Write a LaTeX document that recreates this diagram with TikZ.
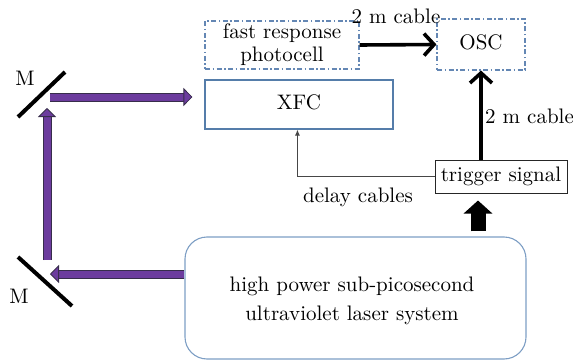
\documentclass[tikz,border=0pt]{standalone}
\usepackage{graphicx}
\usetikzlibrary{arrows.meta,calc}
\definecolor{boxblue}{RGB}{85,125,170}
\definecolor{dashblue}{RGB}{100,135,180}
\definecolor{laserblue}{RGB}{125,158,196}
\definecolor{vio}{RGB}{108,60,158}
\definecolor{vioedge}{RGB}{55,45,75}
\definecolor{linegray}{RGB}{70,70,70}
\newcommand{\bigtxt}[1]{\scalebox{2.1}{\begin{tabular}{@{}c@{}}#1\end{tabular}}}
\begin{document}
\begin{tikzpicture}[x=1pt,y=-1pt,
  font=\fontsize{10}{12}\selectfont,
  dashbox/.style={draw=dashblue, line width=1.1pt, dash pattern=on 5pt off 2.5pt on 1.5pt off 2.5pt, inner sep=0pt},
  solidbox/.style={draw=boxblue, line width=1.1pt, inner sep=0pt},
  trigbox/.style={draw=black!85, line width=1pt, inner sep=0pt},
  laserbox/.style={draw=laserblue, line width=1.1pt, rounded corners=22pt, inner sep=0pt},
  lbl/.style={inner sep=0pt},
  thickarr/.style={line width=3.6pt, -{Straight Barb[length=10pt,width=22pt]}},
  blockarr/.style={line width=15pt, -{Triangle[length=13pt,width=28pt]}},
  beam/.style={line width=7pt, draw=vio,
    preaction={draw=vioedge, line width=9pt, arrows=-, shorten >=8pt},
    -{Triangle[length=9pt,width=18pt,line width=0.8pt,fill=vio,color=vioedge]}},
  mirror/.style={line width=4pt, black},
  delayarr/.style={draw=linegray, line width=1pt, -{Latex[length=6pt,width=5pt]}}
]
\useasboundingbox (0,0) rectangle (573,361);

% boxes
\node[dashbox, minimum width=154pt, minimum height=48pt] (pc) at (282,45)
  {\bigtxt{fast response\\[-1.4pt]photocell}};
\node[dashbox, minimum width=88pt, minimum height=51pt] (osc) at (481,44.5) {\bigtxt{OSC}};
\node[solidbox, minimum width=188pt, minimum height=49pt] (xfc) at (299,104.5) {\bigtxt{XFC}};
\node[trigbox, minimum width=132pt, minimum height=33pt] (trig) at (501,176.5) {\bigtxt{trigger signal}};
\node[laserbox, minimum width=341pt, minimum height=122pt] (laser) at (355.5,298) {};
\node[lbl] (lasertxt) at (352,301) {\bigtxt{high power sub-picosecond\\[1.4pt]ultraviolet laser system}};

% cable arrows
\draw[thickarr] (pc.east) -- (osc.west);
\node[lbl] (lab1) at (396,18) {\bigtxt{2 m cable}};
\coordinate (tup) at (osc.south |- trig.north);
\draw[thickarr] (tup) -- (osc.south);
\node[lbl, anchor=west] (lab2) at (485,118) {\bigtxt{2 m cable}};

% delay cables
\coordinate (xfcin) at ($(xfc.south west)+(93,0)$);
\draw[delayarr] (trig.west) -| (xfcin);
\node[lbl] (lab3) at (358,197) {\bigtxt{delay cables}};

% laser to trigger block arrow
\coordinate (bafrom) at ($(osc.south |- laser.north)+(-3,-5)$);
\coordinate (bato) at ($(osc.south |- trig.south)+(-3,7)$);
\draw[blockarr] (bafrom) -- (bato);

% mirrors
\coordinate (m1a) at (18,117);
\coordinate (m1b) at (65,72);
\coordinate (m2a) at (18,257);
\coordinate (m2b) at (72,306);
\draw[mirror] (m1a) -- (m1b);
\draw[mirror] (m2a) -- (m2b);
\node[lbl] (M1) at (25,80) {\bigtxt{M}};
\node[lbl] (M2) at (19,298) {\bigtxt{M}};

% laser beams
\coordinate (b3start) at (laser.west |- 0,274);
\coordinate (b3end) at (50,274);
\draw[beam] (b3start) -- (b3end);
\coordinate (b2start) at (47,260);
\coordinate (b2end) at (47,108);
\draw[beam] (b2start) -- (b2end);
\coordinate (b1start) at (50,97);
\coordinate (b1end) at (xfc.west |- 0,97);
\draw[beam] (b1start) -- ($(b1end)+(-12,0)$);
\end{tikzpicture}
\end{document}
